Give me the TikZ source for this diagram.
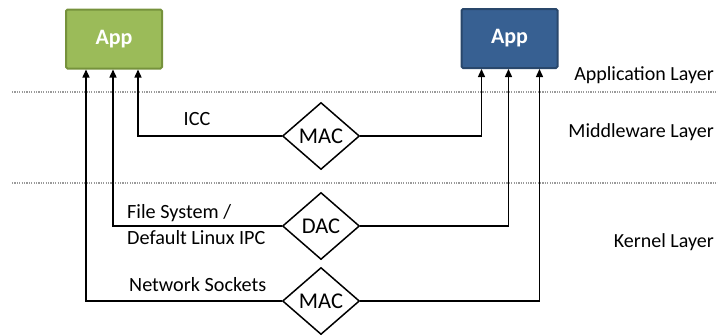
\documentclass[tikz,border=0pt]{standalone}
\usepackage{fontspec}
\setmainfont{Carlito}
\usetikzlibrary{shapes.geometric,arrows.meta}
\definecolor{appgreen}{HTML}{9BBB59}
\definecolor{appgreenedge}{HTML}{76923C}
\definecolor{appblue}{HTML}{376092}
\definecolor{appblueedge}{HTML}{29476B}
\definecolor{divider}{HTML}{9A9A9A}
\tikzset{
  appbox/.style={rectangle, rounded corners=1.5pt, line width=2pt,
    minimum width=96pt, minimum height=59pt, inner sep=0pt,
    text=white, font=\fontsize{22}{24}\selectfont\bfseries},
  gate/.style={diamond, draw, line width=1.5pt, fill=white, inner sep=0pt,
    minimum width=77pt, minimum height=67pt,
    font=\fontsize{22.5}{24}\selectfont},
  arr/.style={line width=1.4pt, -{Triangle[length=8pt,width=7pt]}},
  layerlabel/.style={anchor=east, inner sep=0pt, font=\fontsize{20}{22}\selectfont},
  pathlabel/.style={inner sep=0pt, font=\fontsize{20.2}{22}\selectfont},
  divline/.style={draw=divider, line width=1.2pt, dash pattern=on 1.2pt off 1.2pt}
}
\begin{document}
\begin{tikzpicture}[x=1pt,y=-1pt]
\useasboundingbox (0,0) rectangle (718,335);

% layer dividers
\coordinate (d1a) at (12,92);  \coordinate (d1b) at (718,92);
\coordinate (d2a) at (12,183); \coordinate (d2b) at (718,183);
\draw[divline] (d1a) -- (d1b);
\draw[divline] (d2a) -- (d2b);

% layer names
\node[layerlabel] (lapp) at (714,75)  {Application Layer};
\node[layerlabel] (lmid) at (714,132) {Middleware Layer};
\node[layerlabel] (lker) at (714,242) {Kernel Layer};

% applications
\node[appbox, fill=appgreen, draw=appgreenedge] (appL) at (114,39)  {App};
\node[appbox, fill=appblue,  draw=appblueedge]  (appR) at (509.5,38.5) {App};

% access-control gates
\node[gate] (icc) at (321,136) {MAC};
\node[gate] (dac) at (321,226) {DAC};
\node[gate] (net) at (321,301) {MAC};

% channels
\draw[arr] (icc.west) -| ([xshift=73pt]appL.south west);
\draw[arr] (icc.east) -| ([xshift=21pt]appR.south west);
\draw[arr] (dac.west) -| ([xshift=48pt]appL.south west);
\draw[arr] (dac.east) -| ([xshift=48pt]appR.south west);
\draw[arr] (net.west) -| ([xshift=21pt]appL.south west);
\draw[arr] (net.east) -| ([xshift=79pt]appR.south west);

% channel names
\node[pathlabel] (ticc) at (197,119) {ICC};
\node[pathlabel, anchor=west] (tfs)  at (127,213) {File System /};
\node[pathlabel, anchor=west] (tipc) at (127,238) {Default Linux IPC};
\node[pathlabel, anchor=west] (tnet) at (129,285) {Network Sockets};
\end{tikzpicture}
\end{document}
